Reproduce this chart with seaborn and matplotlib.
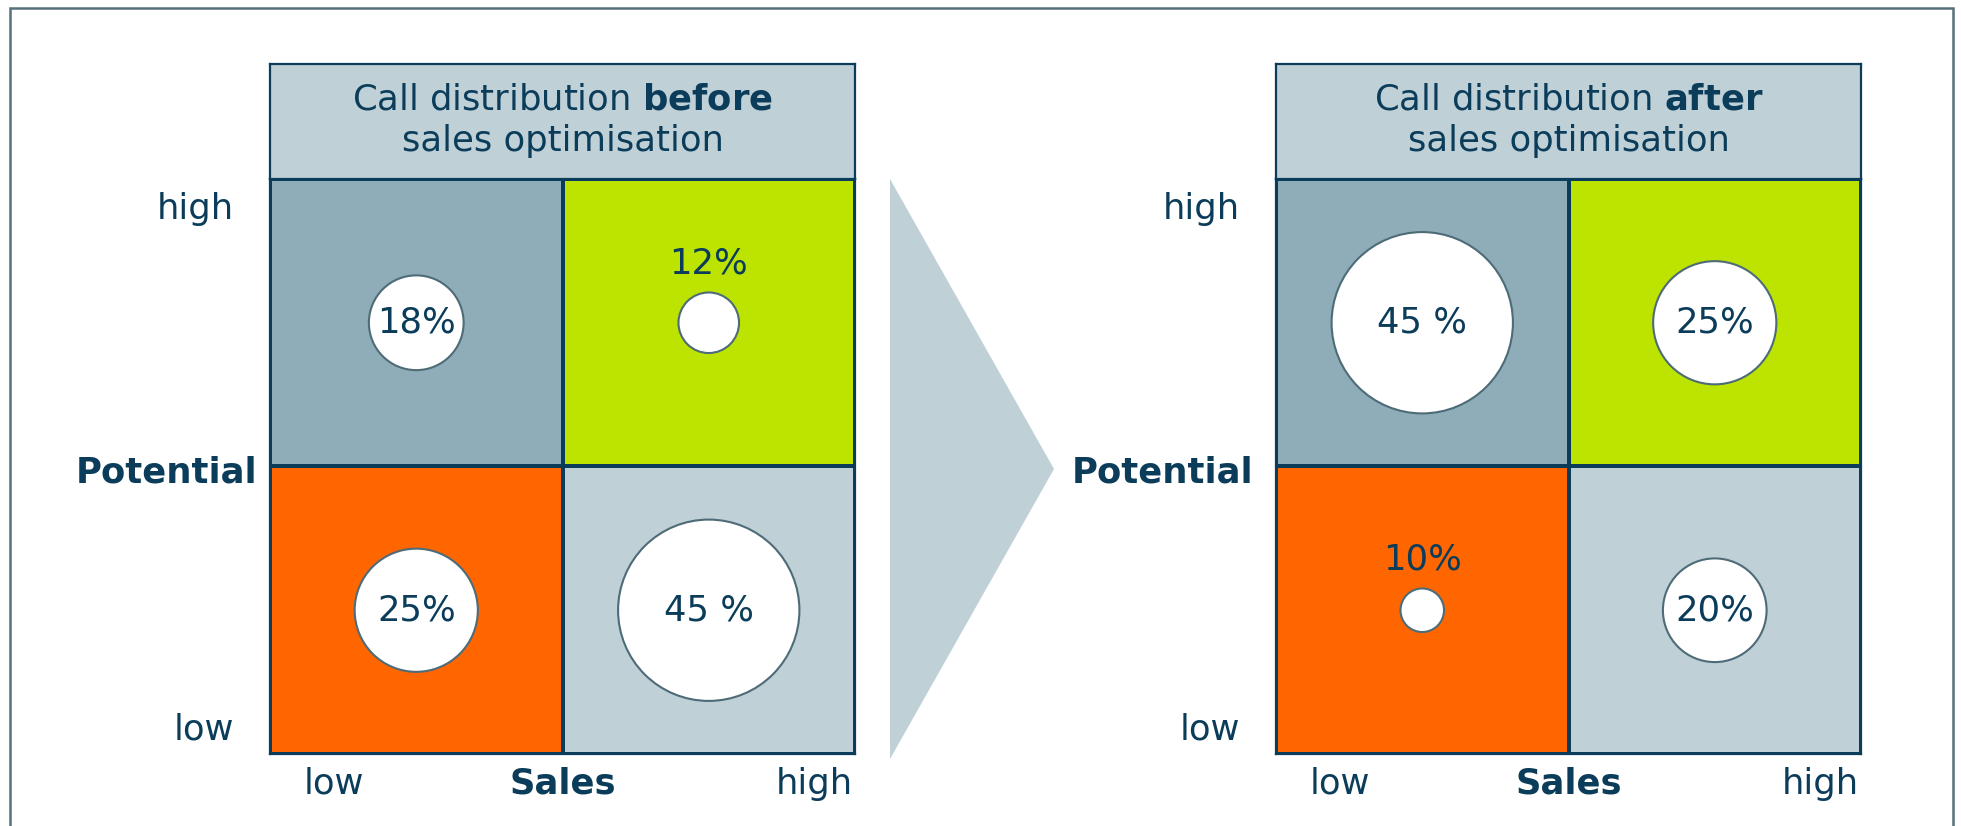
import numpy as np
import pandas as pd
import matplotlib.pyplot as plt
import seaborn as sns
from matplotlib.colors import ListedColormap
from matplotlib.patches import Rectangle

# ===================================
# DATA
# ===================================
sales_levels = ["low", "high"]          # columns, left -> right
potential_levels = ["high", "low"]      # rows, top -> bottom
stages = ["before", "after"]

# call share per cell, rows = potential (high, low), cols = sales (low, high)
share_before = [[18, 12], [25, 45]]
share_after = [[45, 25], [10, 20]]
labels_before = [["18%", "12%"], ["25%", "45 %"]]
labels_after = [["45 %", "25%"], ["10%", "20%"]]

cell_codes = [[0, 1], [2, 3]]
cell_colours = ["#8FADB8", "#BCE400", "#FF6600", "#BFD0D7"]

navy = "#0B3D5B"
light = "#BFD0D7"
circle_edge = "#4E6B78"

sns.set_style("white")
plt.rcParams["font.family"] = ["DejaVu Sans"]
plt.rcParams["mathtext.fontset"] = "dejavusans"
fs = 25.5

W, H = 1961, 826
fig = plt.figure(figsize=(W / 100, H / 100), dpi=100)

# outer frame (bottom edge runs off the picture)
fig.patches.append(Rectangle((10 / W, -0.1), (1953 - 10) / W, 1.1 - 7.5 / H,
                             transform=fig.transFigure, fill=False,
                             edgecolor="#56707C", lw=1.8))

grid_left = [270, 1276]
grid_w, grid_top, grid_bot, head_top = 585, 179, 754, 64
pot_dx = [-13, -23]

size_range = (983, 17044)
size_norm = (10, 45)


def draw_panel(i, shares, texts):
    x0 = grid_left[i]
    ax = fig.add_axes([x0 / W, 1 - grid_bot / H, grid_w / W, (grid_bot - grid_top) / H])
    sns.heatmap(np.array(cell_codes), cmap=ListedColormap(cell_colours), vmin=-0.5, vmax=3.5,
                cbar=False, linewidths=1.5, linecolor=navy, ax=ax)

    rows = []
    for r, pot in enumerate(potential_levels):
        for c, sal in enumerate(sales_levels):
            rows.append({"x": c + 0.5, "y": r + 0.5, "share": shares[r][c], "label": texts[r][c]})
    df = pd.DataFrame(rows)

    sns.scatterplot(data=df, x="x", y="y", size="share", sizes=size_range, size_norm=size_norm,
                    color="white", edgecolor=circle_edge, linewidth=1.5, legend=False,
                    ax=ax, zorder=3)
    for _, row in df.iterrows():
        if row["share"] < 15:
            # small bubble: label sits above it
            s = size_range[0] + (row["share"] - size_norm[0]) / (size_norm[1] - size_norm[0]) \
                * (size_range[1] - size_range[0])
            ax.annotate(row["label"], (row["x"], row["y"]), xytext=(0, np.sqrt(s) / 2 + 21),
                        textcoords="offset points", ha="center", va="center",
                        fontsize=fs, color=navy, zorder=4)
        else:
            ax.text(row["x"], row["y"], row["label"], ha="center", va="center",
                    fontsize=fs, color=navy, zorder=4)

    ax.set_xlim(0, 2)
    ax.set_ylim(2, 0)
    ax.set_xticks([])
    ax.set_yticks([])
    ax.set_xlabel("")
    ax.set_ylabel("")
    for s in ax.spines.values():
        s.set_visible(True)
        s.set_color(navy)
        s.set_linewidth(1.6)

    # axis texts
    kw = dict(xycoords="axes fraction", textcoords="offset pixels", fontsize=fs, color=navy)
    ax.annotate("high", (0, 1), xytext=(-36, -30), ha="right", va="center", **kw)
    ax.annotate("low", (0, 0), xytext=(-36, 24), ha="right", va="center", **kw)
    ax.annotate("Potential", (0, 0.5), xytext=(pot_dx[i], -6), ha="right", va="center",
                fontweight="bold", **kw)
    ax.annotate("low", (0, 0), xytext=(34, -30), ha="left", va="center", **kw)
    ax.annotate("Sales", (0.5, 0), xytext=(0, -30), ha="center", va="center",
                fontweight="bold", **kw)
    ax.annotate("high", (1, 0), xytext=(-2, -30), ha="right", va="center", **kw)

    # header box
    hx = fig.add_axes([x0 / W, 1 - grid_top / H, grid_w / W, (grid_top - head_top) / H])
    hx.set_facecolor(light)
    hx.set_xticks([])
    hx.set_yticks([])
    for s in hx.spines.values():
        s.set_color(navy)
        s.set_linewidth(1.6)
    hx.text(0.5, 0.69, "Call distribution $\\mathbf{%s}$" % stages[i], ha="center", va="center",
            fontsize=fs, color=navy, transform=hx.transAxes)
    hx.text(0.5, 0.33, "sales optimisation", ha="center", va="center",
            fontsize=fs, color=navy, transform=hx.transAxes)


draw_panel(0, share_before, labels_before)
draw_panel(1, share_after, labels_after)

# arrow between the panels
ax_arrow = fig.add_axes([890 / W, 1 - 759 / H, (1054 - 890) / W, (759 - 179) / H])
ax_arrow.fill([0, 0, 1], [0, 1, 0.5], color=light, lw=0)
ax_arrow.set_xlim(0, 1)
ax_arrow.set_ylim(0, 1)
ax_arrow.axis("off")

plt.savefig("out.png", dpi=100)
